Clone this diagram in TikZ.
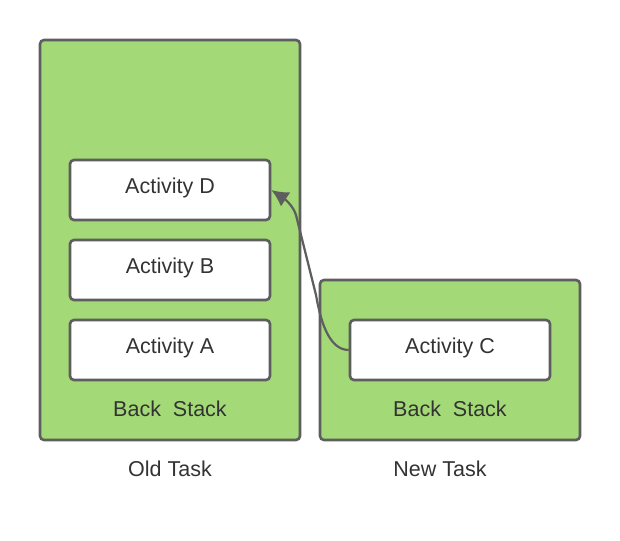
\documentclass[tikz,border=0pt]{standalone}
\usepackage{fontspec}
\setmainfont{Liberation Sans}
\usetikzlibrary{arrows.meta}
\definecolor{taskgreen}{HTML}{A3D977}
\definecolor{edgegray}{HTML}{5E5E5E}
\definecolor{txtgray}{HTML}{333333}
\begin{document}
\begin{tikzpicture}[x=1pt,y=-1pt,
  task/.style={draw=edgegray,fill=taskgreen,line width=2.6pt,rounded corners=4pt},
  act/.style={draw=edgegray,fill=white,line width=2.6pt,rounded corners=4pt,minimum width=200pt,minimum height=60pt,inner sep=0pt},
  lbl/.style={text=txtgray,font=\fontsize{21.5}{25}\selectfont,inner sep=0pt},
  link/.style={draw=edgegray,line width=2.2pt,-{Latex[length=17pt,width=17pt]}}]
\useasboundingbox (0,0) rectangle (620,540);
\draw[task] (40,40) rectangle (300,440);
\draw[task] (320,280) rectangle (580,440);
\node[act] (D) at (170,190) {};
\node[act] (B) at (170,270) {};
\node[act] (A) at (170,350) {};
\node[act] (C) at (450,350) {};
\node[lbl] (tD) at (170,188) {Activity D};
\node[lbl] (tB) at (170,268) {Activity B};
\node[lbl] (tA) at (170,348) {Activity A};
\node[lbl] (tC) at (450,348) {Activity C};
\node[lbl] (bs1) at (170,409) {Back\ \ Stack};
\node[lbl] (bs2) at (450,409) {Back\ \ Stack};
\node[lbl] (old) at (170,469) {Old Task};
\node[lbl] (new) at (440,469) {New Task};
\draw[link] (C.west) .. controls (328,350) and (320,318) .. (316,295)
  -- (296,215) .. controls (293,205) and (283,197.7) .. (D.east);
\end{tikzpicture}
\end{document}
